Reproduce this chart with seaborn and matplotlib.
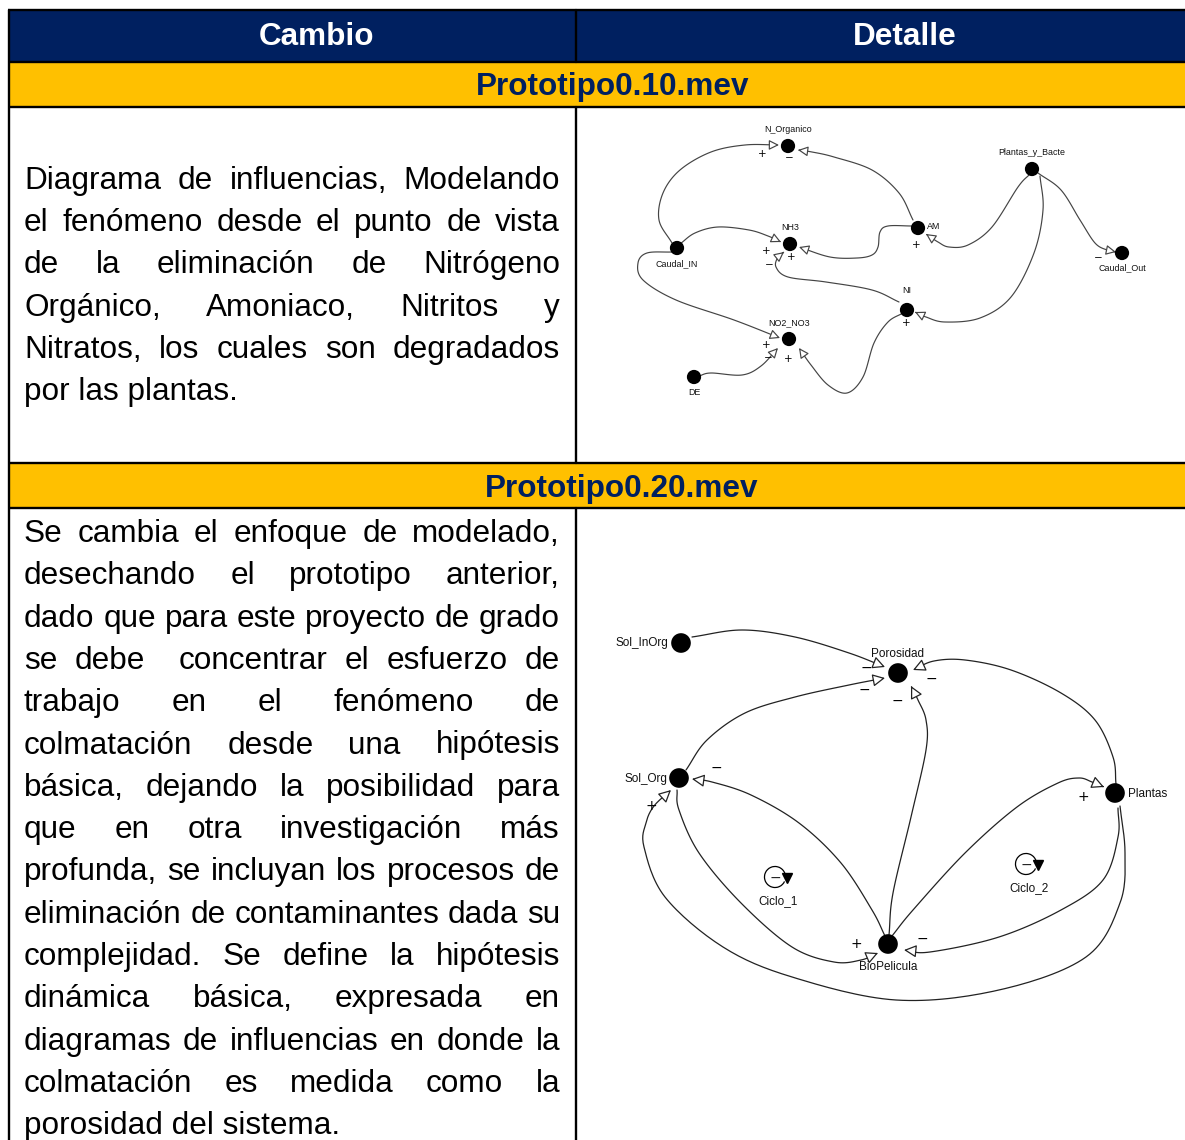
import numpy as np
import pandas as pd
import matplotlib
matplotlib.use("Agg")
import matplotlib.pyplot as plt
from matplotlib.patches import Rectangle, FancyArrowPatch, Arc, ArrowStyle
from matplotlib.path import Path
import seaborn as sns

# ---------------- data ----------------
header_labels = ["Cambio", "Detalle"]
section_titles = ["Prototipo0.10.mev", "Prototipo0.20.mev"]

text_row1 = [
    "Diagrama de influencias, Modelando",
    "el fenómeno desde el punto de vista",
    "de la eliminación de Nitrógeno",
    "Orgánico, Amoniaco, Nitritos y",
    "Nitratos, los cuales son degradados",
    "por las plantas.",
]
text_row2 = [
    "Se cambia el enfoque de modelado,",
    "desechando el prototipo anterior,",
    "dado que para este proyecto de grado",
    "se debe  concentrar el esfuerzo de",
    "trabajo en el fenómeno de",
    "colmatación desde una hipótesis",
    "básica, dejando la posibilidad para",
    "que en otra investigación más",
    "profunda, se incluyan los procesos de",
    "eliminación de contaminantes dada su",
    "complejidad. Se define la hipótesis",
    "dinámica básica, expresada en",
    "diagramas de influencias en donde la",
    "colmatación es medida como la",
    "porosidad del sistema.",
]

# Diagram 1 nodes
d1_names = ["N_Organico", "Plantas_y_Bacte", "Caudal_IN", "NH3", "AM",
            "Caudal_Out", "NI", "NO2_NO3", "DE"]
d1_x = [788, 1032, 677, 790, 918, 1122, 907, 789, 694]
d1_y = [146, 169, 248, 244, 228, 253, 310, 339, 377]
d1_label_pos = [(788, 134, "center"), (1032, 157, "center"), (677, 268, "center"),
                (790, 232, "center"), (927, 231, "left"), (1122, 272, "center"),
                (907, 295, "center"), (789, 327, "center"), (694, 397, "center")]

# Diagram 1 links: waypoints (source -> arrow tip), polarity, sign position
d1_links = [
    [(672, 243), (659, 220), (663, 193), (680, 170), (711, 152), (745, 145), (779, 145)],
    [(913, 220), (899, 193), (872, 170), (834, 157), (812, 152), (798, 150)],
    [(680, 244), (695, 233), (718, 227), (749, 230), (768, 236), (781, 242)],
    [(912, 226), (888, 226), (880, 232), (878, 247), (872, 255), (857, 258), (830, 257), (799, 247)],
    [(899, 302), (872, 290), (826, 282), (788, 277), (776, 267), (778, 257), (784, 252)],
    [(1030, 174), (1018, 187), (992, 227), (968, 245), (949, 247), (938, 242), (926, 234)],
    [(1038, 173), (1061, 190), (1080, 220), (1095, 243), (1107, 250), (1116, 252)],
    [(1040, 176), (1043, 210), (1034, 253), (1011, 297), (980, 318), (945, 322), (926, 317), (915, 312)],
    [(672, 252), (647, 253), (638, 263), (643, 280), (676, 300), (734, 320), (780, 338)],
    [(699, 376), (711, 373), (742, 375), (761, 366), (778, 348)],
    [(903, 313), (888, 322), (874, 343), (863, 377), (847, 393), (828, 385), (811, 365), (799, 348)],
]
d1_signs = ["+", "−", "+", "+", "−", "+", "−", "+", "+", "−", "+"]
d1_sign_pos = [(762, 154), (789, 158), (766, 251), (791, 257), (769, 265), (916, 245),
               (1098, 258), (906, 323), (766, 345), (768, 358), (788, 359)]

# Diagram 2 nodes
d2_names = ["Sol_InOrg", "Porosidad", "Sol_Org", "Plantas", "BioPelicula"]
d2_x = [681, 898, 679, 1115, 888]
d2_y = [643, 673, 778, 793, 944]
d2_label_pos = [(668, 643, "right"), (898, 654, "center"), (667, 779, "right"),
                (1128, 794, "left"), (888, 967, "center")]

d2_links = [
    [(692, 637), (742, 630), (795, 637), (849, 653), (885, 667)],
    [(686, 770), (707, 740), (745, 713), (795, 697), (849, 685), (885, 678)],
    [(1116, 784), (1113, 757), (1095, 720), (1061, 693), (1011, 670), (965, 660), (934, 661), (913, 670)],
    [(889, 935), (893, 893), (911, 817), (926, 750), (926, 720), (918, 700), (911, 686)],
    [(885, 936), (872, 910), (841, 863), (799, 823), (751, 795), (712, 782), (692, 779)],
    [(677, 790), (679, 810), (699, 853), (741, 903), (792, 947), (834, 962), (861, 960), (878, 953)],
    [(1120, 806), (1125, 853), (1120, 903), (1086, 957), (999, 990), (896, 1000), (792, 977),
     (723, 947), (665, 897), (644, 847), (646, 823), (654, 806), (671, 790)],
    [(1118, 808), (1118, 837), (1103, 880), (1061, 910), (999, 937), (930, 952), (904, 950)],
    [(892, 936), (913, 910), (965, 853), (1017, 807), (1058, 783), (1079, 778), (1092, 782), (1104, 787)],
]
d2_signs = ["−", "−", "−", "−", "−", "+", "+", "−", "+"]
d2_sign_pos = [(866, 668), (864, 690), (931, 679), (897, 701), (716, 768), (856, 944),
               (651, 806), (922, 939), (1083, 797)]

loops = [("Ciclo_1", 775, 877), ("Ciclo_2", 1026, 864)]

# ---------------- figure ----------------
sns.set_theme(style="white")
plt.rcParams["font.family"] = ["Liberation Sans", "DejaVu Sans"]

W, H = 1185, 1140
fig = plt.figure(figsize=(W / 100, H / 100), dpi=100)
ax = fig.add_axes([0, 0, 1, 1])
ax.axis("off")

NAVY = "#002060"
YELLOW = "#FFC000"

# backgrounds
ax.add_patch(Rectangle((8, 10), W, 52, facecolor=NAVY, edgecolor="none", zorder=0))
ax.add_patch(Rectangle((8, 62), W, 45, facecolor=YELLOW, edgecolor="none", zorder=0))
ax.add_patch(Rectangle((8, 463), W, 45, facecolor=YELLOW, edgecolor="none", zorder=0))

lw_b = 1.7
for yy in [10, 62, 107, 463, 508]:
    ax.plot([8, W + 5], [yy, yy], color="black", lw=lw_b, solid_capstyle="butt", zorder=3)
ax.plot([9, 9], [10, H + 5], color="black", lw=lw_b, zorder=3)
for (ya, yb) in [(10, 62), (107, 463), (508, H + 5)]:
    ax.plot([576, 576], [ya, yb], color="black", lw=lw_b, zorder=3)

BIG = 22.7
ax.text(316, 45, header_labels[0], color="white", fontsize=BIG, fontweight="bold",
        ha="center", va="baseline")
ax.text(905, 45, header_labels[1], color="white", fontsize=BIG, fontweight="bold",
        ha="center", va="baseline")
ax.text(613, 95, section_titles[0], color=NAVY, fontsize=BIG, fontweight="bold",
        ha="center", va="baseline")
ax.text(622, 497, section_titles[1], color=NAVY, fontsize=BIG, fontweight="bold",
        ha="center", va="baseline")

renderer = fig.canvas.get_renderer()


def justified(lines, x0, x1, y0, dy, **kw):
    for i, line in enumerate(lines):
        y = y0 + i * dy
        if i == len(lines) - 1:
            ax.text(x0, y, line, ha="left", va="baseline", **kw)
            continue
        words = line.split(" ")
        widths = []
        for w in words:
            if w:
                t = ax.text(0, 0, w, **kw)
                widths.append(t.get_window_extent(renderer).width)
                t.remove()
            else:
                widths.append(0.0)
        gap = (x1 - x0 - sum(widths)) / (len(words) - 1)
        x = x0
        for w, wd in zip(words, widths):
            if w:
                ax.text(x, y, w, ha="left", va="baseline", **kw)
            x += wd + gap


justified(text_row1, 24, 560, 189, 42.2, fontsize=BIG, color="black")
justified(text_row2, 24, 560, 542, 42.3, fontsize=BIG, color="black")


def catmull(pts, n=16):
    p = np.asarray(pts, dtype=float)
    p = np.vstack([p[0] * 2 - p[1], p, p[-1] * 2 - p[-2]])
    out = []
    for i in range(1, len(p) - 2):
        p0, p1, p2, p3 = p[i - 1], p[i], p[i + 1], p[i + 2]
        for t in np.linspace(0, 1, n, endpoint=False):
            t2, t3 = t * t, t * t * t
            out.append(0.5 * ((2 * p1) + (-p0 + p2) * t + (2 * p0 - 5 * p1 + 4 * p2 - p3) * t2
                              + (-p0 + 3 * p1 - 3 * p2 + p3) * t3))
    out.append(p[-2])
    return np.array(out)


def draw_links(links, signs, sign_pos, head, lw, sfs, col):
    for pts, s, sp in zip(links, signs, sign_pos):
        c = catmull(pts)
        arr = FancyArrowPatch(path=Path(c), arrowstyle=ArrowStyle("-|>", head_length=head[0],
                                                                 head_width=head[1]),
                              mutation_scale=10, facecolor="white", edgecolor=col,
                              lw=lw, shrinkA=0, shrinkB=0, transform=ax.transData, zorder=4)
        ax.add_patch(arr)
        ax.text(sp[0], sp[1], s, fontsize=sfs, ha="center", va="center", color="black",
                family=["DejaVu Sans"], zorder=6)


draw_links(d1_links, d1_signs, d1_sign_pos, (0.6, 0.3), 0.85, 7.5, "#444444")
draw_links(d2_links, d2_signs, d2_sign_pos, (0.75, 0.38), 0.9, 10, "#222222")

df1 = pd.DataFrame({"name": d1_names, "x": d1_x, "y": d1_y})
df2 = pd.DataFrame({"name": d2_names, "x": d2_x, "y": d2_y})
sns.scatterplot(data=df1, x="x", y="y", s=105, color="black", edgecolor="none",
                legend=False, ax=ax, zorder=7)
sns.scatterplot(data=df2, x="x", y="y", s=200, color="black", edgecolor="none",
                legend=False, ax=ax, zorder=7)

for name, (lx, ly, ha) in zip(d1_names, d1_label_pos):
    ax.text(lx, ly, name, fontsize=6.4, ha=ha, va="bottom", color="#111111", zorder=8)
for name, (lx, ly, ha) in zip(d2_names, d2_label_pos):
    ax.text(lx, ly, name, fontsize=8.5, ha=ha, va="center", color="#111111", zorder=8)

for name, cx, cy in loops:
    r = 10.5
    ax.add_patch(Arc((cx, cy), 2 * r, 2 * r, theta1=25, theta2=345, color="black", lw=0.9, zorder=6))
    ax.plot([cx + r + 1], [cy + 1], marker="v", ms=6.5, color="black", zorder=6)
    ax.text(cx, cy + 1, "−", fontsize=10, ha="center", va="center", family=["DejaVu Sans"], zorder=6)
    ax.text(cx + 3, cy + 24, name, fontsize=8.5, ha="center", va="center", color="#111111", zorder=6)

ax.set_xlim(0, W)
ax.set_ylim(H, 0)
ax.axis("off")
fig.savefig("out.png", dpi=100)
